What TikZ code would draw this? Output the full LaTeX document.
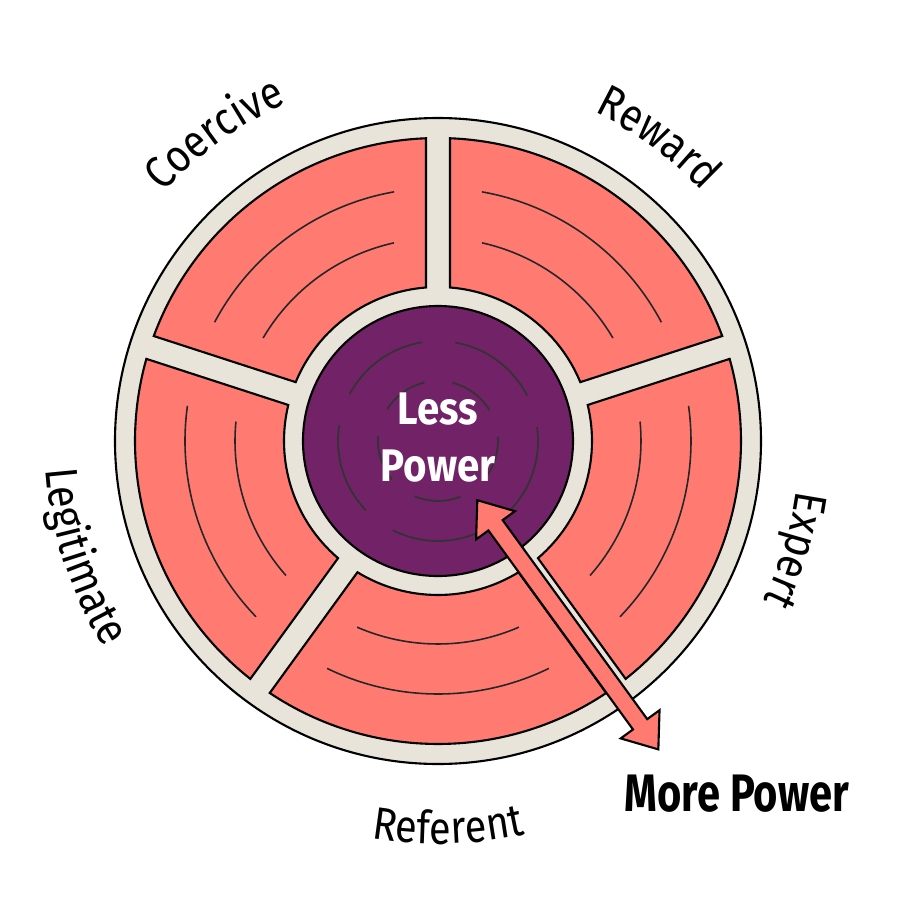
\documentclass[tikz,border=0pt]{standalone}
\usepackage{fontspec}
\usepackage{xcolor}
\usetikzlibrary{calc,decorations.text}

\newfontfamily\ringfont[FakeStretch=0.87]{Fira Sans}
\newfontfamily\lessfont[FakeStretch=0.88]{Fira Sans}
\newfontfamily\morefont[FakeStretch=0.79]{Fira Sans}

\definecolor{ringgray}{HTML}{E8E4DA}
\definecolor{segred}{HTML}{FF7B72}
\definecolor{corepurple}{HTML}{722266}

\begin{document}
\begin{tikzpicture}[
  segment/.style={fill=segred, draw=black, line width=0.6pt},
  segline/.style={draw=black!85, line width=0.45pt},
  coreline/.style={draw=black!80, line width=0.5pt},
  powerarrow/.style={fill=segred, draw=black, line width=0.6pt, line join=miter},
  powertext/.style={align=center, inner sep=0pt},
  ringlabel/.style={decorate, decoration={text along path, text align=center,
    text={|\ringfont\fontsize{13}{15}\selectfont|#1}}}
  ]
  % --- frame: 900x900 px, centre of the wheel at (438,441) px ---
  \fill[white] (-4.38,-4.59) rectangle (4.62,4.41);
  \useasboundingbox (-4.38,-4.59) rectangle (4.62,4.41);

  % outer rim r=3.23
  \draw[fill=ringgray, line width=0.6pt] (0,0) circle (3.23);

  % five red segments between spokes at 18, 90, 162, 234, 306 deg
  % spoke half width 0.12 -> asin(0.12/3.03)=2.27, asin(0.12/1.54)=4.47
  \foreach \a in {18,90,162,234,306}{
    \draw[segment] (\a+2.27:3.03) arc[start angle=\a+2.27, end angle=\a+69.73, radius=3.03]
      -- (\a+67.53:1.54) arc[start angle=\a+67.53, end angle=\a+4.47, radius=1.54] -- cycle;
    \draw[segline] (\a+10:2.53) arc[start angle=\a+10, end angle=\a+62, radius=2.53];
    \draw[segline] (\a+12.5:2.03) arc[start angle=\a+12.5, end angle=\a+59.5, radius=2.03];
  }

  % purple core with broken rings
  \draw[fill=corepurple, line width=0.6pt] (0,0) circle (1.35);
  \foreach \b in {-45,27,99,171,243}{
    \draw[coreline] (\b:1.0) arc[start angle=\b, end angle=\b+53, radius=1.0];
    \draw[coreline] (\b+4:0.6) arc[start angle=\b+4, end angle=\b+49, radius=0.6];
  }

  % double arrow along the spoke at -54 deg
  \coordinate (lesstip) at ($(-54:0.71)+(-144:0.03)$);
  \coordinate (moretip) at ($(-54:3.79)+(-144:0.03)$);
  \draw[powerarrow] (lesstip)
    -- ($(lesstip)+(-54:0.31)+(36:0.24)$) -- ($(lesstip)+(-54:0.31)+(36:0.088)$)
    -- ($(moretip)+(126:0.31)+(36:0.088)$) -- ($(moretip)+(126:0.31)+(36:0.24)$)
    -- (moretip)
    -- ($(moretip)+(126:0.31)+(-144:0.24)$) -- ($(moretip)+(126:0.31)+(-144:0.088)$)
    -- ($(lesstip)+(-54:0.31)+(-144:0.088)$) -- ($(lesstip)+(-54:0.31)+(-144:0.24)$)
    -- cycle;

  % texts
  \node[powertext, text=white, font=\lessfont\bfseries\fontsize{13}{16.2}\selectfont] (less) at (0,0.03) {Less\\Power};
  \node[powertext, font=\morefont\bfseries\fontsize{15}{18}\selectfont] (more) at (2.99,-3.525) {More Power};

  % rim labels: clockwise arcs read outward, counter-clockwise arcs read inward
  \path[ringlabel=Coercive] (156:3.70) arc[start angle=156, end angle=96, radius=3.70];
  \path[ringlabel=Reward] (84:3.64) arc[start angle=84, end angle=24, radius=3.64];
  \path[ringlabel=Expert] (13:3.62) arc[start angle=13, end angle=-47, radius=3.62];
  \path[ringlabel=Legitimate] (168:3.93) arc[start angle=168, end angle=228, radius=3.93];
  \path[ringlabel=Referent] (241.5:4.03) arc[start angle=241.5, end angle=301.5, radius=4.03];
\end{tikzpicture}
\end{document}
